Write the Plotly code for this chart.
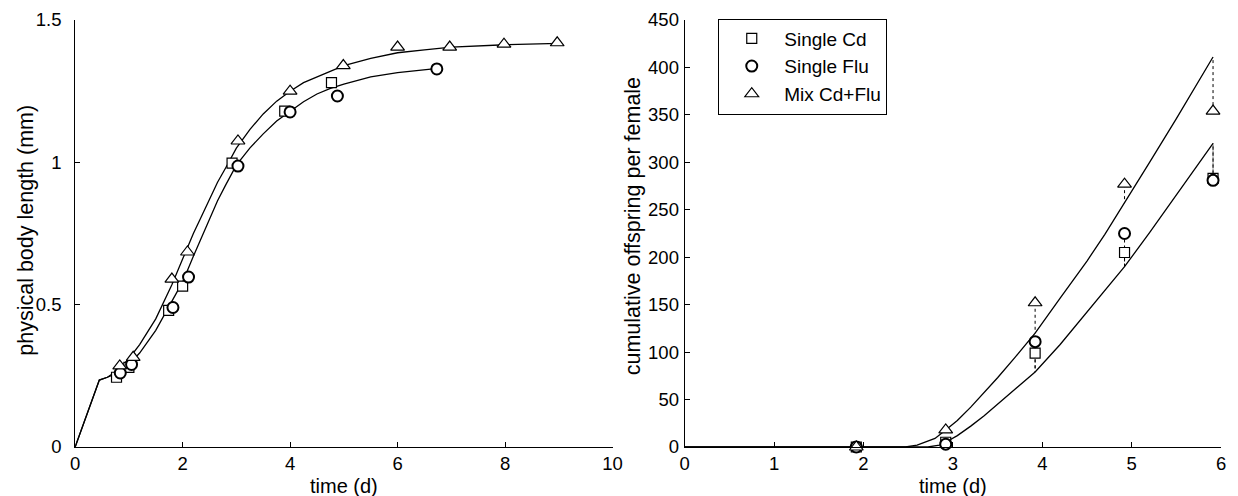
import numpy as np
import plotly.graph_objects as go

# ---------- left panel: body length ----------
len_cd_t = [0.77, 1.0, 1.74, 2.0, 2.92, 3.9, 4.77]
len_cd = [0.245, 0.28, 0.48, 0.565, 0.997, 1.18, 1.28]
len_flu_t = [0.84, 1.05, 1.82, 2.11, 3.03, 4.0, 4.88, 6.73]
len_flu = [0.26, 0.29, 0.49, 0.597, 0.987, 1.177, 1.233, 1.328]
len_mix_t = [0.83, 1.08, 1.80, 2.09, 3.03, 4.0, 4.99, 6.0, 6.97, 7.98, 8.97]
len_mix = [0.285, 0.315, 0.59, 0.685, 1.075, 1.25, 1.34, 1.405, 1.405, 1.415, 1.42]

fit_mix_t = [0, 0.45, 0.6, 0.8, 1.0, 1.2, 1.5, 1.65, 1.8, 2.0, 2.2, 2.35, 2.5, 2.65, 2.8, 3.0, 3.25, 3.5, 3.75,
             4.0, 4.25, 4.5, 4.75, 5.0, 5.5, 6.0, 6.5, 7.0, 8.0, 9.0]
fit_mix = [0, 0.235, 0.245, 0.27, 0.31, 0.36, 0.45, 0.51, 0.57, 0.66, 0.75, 0.81, 0.87, 0.93, 0.98, 1.05, 1.115,
           1.17, 1.215, 1.25, 1.28, 1.30, 1.322, 1.34, 1.365, 1.385, 1.395, 1.405, 1.413, 1.418]
fit_single_t = [0, 0.45, 0.6, 0.8, 1.0, 1.2, 1.5, 1.65, 1.8, 2.0, 2.2, 2.35, 2.5, 2.65, 2.8, 3.0, 3.25, 3.5, 3.75,
                4.0, 4.25, 4.5, 4.75, 5.0, 5.5, 6.0, 6.5, 6.75]
fit_single = [0, 0.235, 0.245, 0.26, 0.29, 0.33, 0.41, 0.46, 0.51, 0.58, 0.67, 0.735, 0.80, 0.865, 0.92, 0.99,
              1.05, 1.10, 1.145, 1.18, 1.213, 1.24, 1.26, 1.275, 1.30, 1.315, 1.325, 1.33]

# ---------- right panel: reproduction ----------
rep_t = [1.92, 2.92, 3.92, 4.92, 5.91]
rep_cd = [0, 5, 99, 205, 283]
rep_flu = [0, 3, 111, 225, 281]
rep_mix = [0, 18, 152, 277, 354]

rfit_mix_t = [0, 2.47, 2.6, 2.8, 2.92, 3.05, 3.2, 3.35, 3.5, 3.7, 3.92, 4.2, 4.5, 4.7, 4.92, 5.2, 5.5, 5.7, 5.91]
rfit_mix = [0, 0, 2, 9, 18, 28, 42, 57, 73, 95, 120, 157, 196, 224, 257, 300, 346, 378, 411]
rfit_single_t = [0, 2.72, 2.85, 2.92, 3.05, 3.2, 3.35, 3.5, 3.7, 3.92, 4.2, 4.5, 4.7, 4.92, 5.2, 5.5, 5.7, 5.91]
rfit_single = [0, 0, 2, 5, 12, 22, 33, 45, 61, 79, 108, 142, 165, 190, 226, 266, 292, 320]

names = ["Single Cd", "Single Flu", "Mix Cd+Flu"]
FONT = "Liberation Sans, Arial, sans-serif"

fig = go.Figure()

def line(x, y, xa, ya):
    fig.add_trace(go.Scatter(x=x, y=y, mode="lines", line=dict(color="black", width=1.3),
                             xaxis=xa, yaxis=ya, showlegend=False, hoverinfo="skip"))

def dotted(tx, ty, ft, fv, xa, ya):
    model = np.interp(tx, ft, fv)
    xs, ys = [], []
    for t, d, m in zip(tx, ty, model):
        xs += [t, t, None]
        ys += [d, m, None]
    fig.add_trace(go.Scatter(x=xs, y=ys, mode="lines", line=dict(color="black", width=1, dash="dot"),
                             xaxis=xa, yaxis=ya, showlegend=False, hoverinfo="skip"))

def markers(x, y, sym, size, lw, xa, ya, name, show):
    fig.add_trace(go.Scatter(x=x, y=y, mode="markers", name=name,
                             marker=dict(symbol=sym, size=size, color="white",
                                         line=dict(color="black", width=lw)),
                             xaxis=xa, yaxis=ya, showlegend=show, cliponaxis=False))

# left
line(fit_single_t, fit_single, "x", "y")
line(fit_mix_t, fit_mix, "x", "y")
markers(len_cd_t, len_cd, "square", 10, 1.2, "x", "y", names[0], False)
markers(len_flu_t, len_flu, "circle", 11, 2, "x", "y", names[1], False)
markers(len_mix_t, len_mix, "triangle-up", 12, 1.2, "x", "y", names[2], False)

# right
line(rfit_single_t, rfit_single, "x2", "y2")
line(rfit_mix_t, rfit_mix, "x2", "y2")
dotted(rep_t, rep_flu, rfit_single_t, rfit_single, "x2", "y2")
dotted(rep_t, rep_cd, rfit_single_t, rfit_single, "x2", "y2")
dotted(rep_t, rep_mix, rfit_mix_t, rfit_mix, "x2", "y2")
markers(rep_t, rep_cd, "square", 10, 1.2, "x2", "y2", names[0], True)
markers(rep_t, rep_flu, "circle", 11, 2, "x2", "y2", names[1], True)
markers(rep_t, rep_mix, "triangle-up", 12, 1.2, "x2", "y2", names[2], True)

W, H = 1238, 496
TOP, BOT = 20, 447
PH = BOT - TOP
axcommon = dict(showline=True, linecolor="black", linewidth=1, ticks="inside", ticklen=5,
                tickcolor="black", showgrid=False, zeroline=False, mirror=False,
                tickfont=dict(size=18.5, color="black", family=FONT))

L0, L1 = 71, 615
R0, R1 = 688, 1231

fig.update_layout(
    width=W, height=H,
    margin=dict(l=0, r=0, t=TOP, b=H - BOT),
    paper_bgcolor="white", plot_bgcolor="white",
    font=dict(family=FONT, color="black"),
    xaxis=dict(domain=[L0 / W, L1 / W], range=[0, 10], tickvals=[0, 2, 4, 6, 8, 10],
               ticklabelstandoff=0, anchor="y", **axcommon),
    yaxis=dict(domain=[0, 1], range=[0, 1.5], tickvals=[0, 0.5, 1, 1.5], ticktext=["0", "0.5", "1", "1.5"],
               ticklabelstandoff=9, anchor="x", **axcommon),
    xaxis2=dict(domain=[R0 / W, R1 / W], range=[0, 6], tickvals=[0, 1, 2, 3, 4, 5, 6],
                ticklabelstandoff=0, anchor="y2", **axcommon),
    yaxis2=dict(domain=[0, 1], range=[0, 450], tickvals=list(range(0, 451, 50)),
                ticklabelstandoff=1, anchor="x2", **axcommon),
    legend=dict(x=722 / W, y=1 + 1.5 / PH,
                xanchor="left", yanchor="top", bordercolor="black", borderwidth=1,
                bgcolor="white", font=dict(size=19, color="black", family=FONT),
                tracegroupgap=0, itemwidth=55),
)

# axis titles (placed as plain text labels)
def title(text, x, y, angle=0, size=20):
    fig.add_annotation(text=text, x=x / W, y=(BOT - y) / PH, xref="paper", yref="paper",
                       showarrow=False, textangle=angle, xanchor="center", yanchor="middle",
                       font=dict(size=size, color="black", family=FONT))

title("time (d)", (L0 + L1) / 2, 486)
title("time (d)", (R0 + R1) / 2, 486)
title("physical body length (mm)", 21, 230, angle=-90, size=21.5)
title("cumulative offspring per female", 636, 226, angle=-90, size=21.5)

fig.write_html("out.html", config={"displayModeBar": False},
               post_script="document.body.style.margin='0';document.body.style.overflow='hidden';")
